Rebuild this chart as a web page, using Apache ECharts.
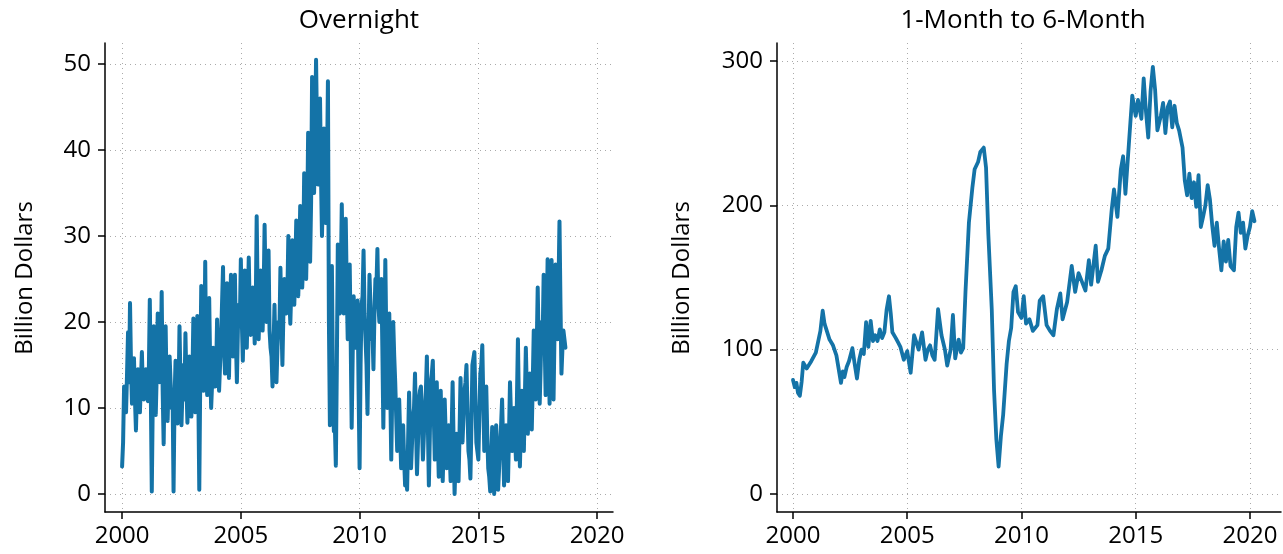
<!DOCTYPE html>
<html>
<head>
<meta charset="utf-8">
<script src="https://cdn.jsdelivr.net/npm/echarts@6/dist/echarts.min.js"></script>
<style>html,body{margin:0;padding:0;background:#fff;}#c{width:1283px;height:554px;}</style>
</head>
<body>
<div id="c"></div>
<script>
// ---- Data ----
const panelTitles = ['Overnight', '1-Month to 6-Month'];
const yAxisTitle = 'Billion Dollars';
const xTicks = [2000, 2005, 2010, 2015, 2020];
const overnightYTicks = [0, 10, 20, 30, 40, 50];
const termYTicks = [0, 100, 200, 300];

// Overnight: readings at the start of each month, from Jan 2000
const overnightStartYear = 2000;
const overnightValues = [
  3.2, 12.5, 9.5, 18.8, 22.2, 10.5, 15.8, 7.4, 14.5, 9.5, 16.5, 11,
  14.5, 10.8, 22.6, 0.3, 19.5, 9.2, 21, 13, 23.5, 5.8, 19.5, 8.5,
  16, 10, 0.3, 15.5, 8.2, 19.5, 8, 15, 18.7, 8.3, 16, 9,
  20.4, 9.5, 20.7, 0.5, 24.2, 12, 27, 11.5, 22.8, 10, 17, 12.5,
  20.3, 12, 18, 26.4, 14, 24.5, 13.5, 25.5, 16, 25.5, 13, 22,
  27.3, 15.5, 26, 17, 27.5, 18.5, 24, 17.5, 32.3, 18, 26, 19,
  31.3, 20, 28.3, 17, 12.5, 22, 13, 20, 26.3, 15, 25, 21,
  30, 19.8, 29.5, 22, 31.8, 23, 33.5, 24, 37.3, 25, 42, 27,
  48.5, 35, 50.5, 36, 46, 30, 42.5, 31.5, 48, 8, 26.5, 7.3,
  3.3, 29, 21, 33.7, 21, 32, 18, 26.7, 7.7, 23, 17, 22.5,
  3, 22, 28.3, 18, 9.3, 25.5, 18, 14.5, 25, 28.5, 20, 25,
  7.7, 27.2, 10, 21, 4, 20, 13, 5, 11, 3, 8, 1,
  0.5, 11.8, 3, 9, 14, 2.3, 11, 12.5, 4, 10, 16, 1,
  13, 15.5, 4, 13, 2, 12, 1.5, 11, 3, 8, 1.5, 13,
  0, 7, 1.5, 13.5, 6, 12, 15, 5, 1.8, 15, 16.5, 6,
  4, 14, 17.3, 5, 12.5, 3, 0.3, 7.8, 0, 8, 0.5, 6,
  11, 1, 8, 1.5, 13, 5, 10, 4, 18, 3.2, 12, 5,
  17, 7, 14, 7.5, 19, 11, 24, 10.5, 20, 25.5, 11.5, 27.3,
  10.5, 27.2, 11, 26.7, 18, 31.7, 14, 19, 17
];
// Overnight: mid-month readings (between consecutive start-of-month readings)
const overnightMidValues = [
  6, 11, 14, 13, 15, 12, 11, 12, 12, 13, 12, 13,
  12, 14, 12, 11, 13, 14, 16, 15, 12, 14, 12, 13,
  13, 12, 11, 12, 11, 13, 12, 11, 13, 12, 11, 13,
  13, 15, 12, 14, 16, 15, 14, 16, 15, 13, 15, 14,
  16, 15, 18, 17, 19, 18, 20, 19, 20, 18, 19, 20,
  20, 21, 19, 22, 21, 20, 22, 21, 23, 22, 21, 23,
  24, 22, 19, 16, 17, 16, 17, 19, 20, 21, 22, 23,
  23, 24, 25, 26, 25, 27, 28, 27, 29, 31, 33, 34,
  40, 41, 42, 40, 37, 36, 35, 37, 20, 15, 14, 8,
  15, 24, 25, 26, 25, 24, 22, 18, 16, 20, 20, 12,
  15, 23, 21, 15, 18, 22, 19, 21, 24, 22, 22, 17,
  17, 18, 15, 12, 12, 16, 9, 8, 7, 5, 4, 3,
  6, 7, 6, 10, 8, 6, 12, 8, 7, 12, 8, 7,
  14, 9, 8, 7, 7, 6, 6, 7, 5, 5, 7, 6,
  4, 4, 7, 9, 9, 13, 10, 4, 8, 15, 11, 5,
  9, 15, 11, 8, 7, 2, 4, 3, 4, 3, 3, 8,
  6, 4, 5, 7, 9, 7, 7, 11, 10, 8, 8, 11,
  12, 10, 11, 13, 15, 17, 17, 15, 18, 18, 19, 18,
  19, 18, 19, 22, 24, 22, 17, 18
];

// 1-Month to 6-Month: [decimal year, value]
const termPoints = [
  [2000.0,79],[2000.08,74],[2000.15,77],[2000.22,70],[2000.3,68],[2000.38,78],[2000.45,91],[2000.6,87],[2000.8,92],
  [2001.0,98],[2001.2,113],[2001.3,127],[2001.38,118],[2001.45,117],[2001.6,107],[2001.75,103],[2001.9,96],
  [2002.1,77],[2002.18,85],[2002.25,81],[2002.35,88],[2002.45,92],[2002.6,101],[2002.7,90],[2002.8,80],[2002.9,93],
  [2003.0,100],[2003.1,97],[2003.2,119],[2003.3,102],[2003.4,120],[2003.5,106],[2003.6,110],[2003.7,106],[2003.8,114],[2003.9,108],
  [2004.0,112],[2004.1,128],[2004.2,137],[2004.28,125],[2004.35,112],[2004.5,108],[2004.6,105],[2004.7,102],[2004.85,93],
  [2005.0,99],[2005.15,84],[2005.3,110],[2005.4,105],[2005.5,100],[2005.65,112],[2005.8,93],[2005.9,100],
  [2006.0,103],[2006.1,96],[2006.2,93],[2006.35,128],[2006.5,110],[2006.65,100],[2006.75,89],[2006.9,100],
  [2007.0,124],[2007.1,94],[2007.25,107],[2007.35,98],[2007.45,101],[2007.55,140],[2007.7,188],[2007.85,212],[2007.95,225],
  [2008.1,230],[2008.2,237],[2008.35,240],[2008.45,226],[2008.55,180],[2008.7,128],[2008.8,72],[2008.9,38],
  [2009.0,19],[2009.1,40],[2009.2,55],[2009.35,90],[2009.45,106],[2009.55,115],[2009.65,140],[2009.75,144],[2009.85,126],
  [2010.0,122],[2010.1,137],[2010.2,118],[2010.35,121],[2010.5,113],[2010.7,117],[2010.8,134],[2010.95,137],
  [2011.1,117],[2011.25,113],[2011.4,110],[2011.55,128],[2011.7,139],[2011.8,121],
  [2012.0,133],[2012.2,158],[2012.35,140],[2012.5,153],[2012.65,147],[2012.8,141],[2012.95,162],
  [2013.05,145],[2013.25,172],[2013.35,147],[2013.5,155],[2013.65,165],[2013.8,170],[2013.95,197],
  [2014.05,211],[2014.2,192],[2014.35,225],[2014.45,234],[2014.55,208],[2014.7,242],[2014.85,276],
  [2015.0,262],[2015.1,273],[2015.25,260],[2015.35,288],[2015.45,265],[2015.55,247],[2015.65,279],[2015.75,296],[2015.85,280],[2015.95,252],
  [2016.1,262],[2016.2,271],[2016.3,250],[2016.4,268],[2016.5,272],[2016.6,254],[2016.7,269],[2016.8,257],[2016.9,252],
  [2017.05,240],[2017.15,217],[2017.25,207],[2017.35,222],[2017.45,205],[2017.55,216],[2017.65,199],[2017.75,221],[2017.85,185],[2017.95,192],
  [2018.05,200],[2018.15,214],[2018.25,204],[2018.35,186],[2018.45,172],[2018.55,188],[2018.65,170],[2018.75,155],[2018.85,175],[2018.95,161],
  [2019.05,176],[2019.15,158],[2019.3,155],[2019.4,185],[2019.5,195],[2019.6,181],[2019.7,188],[2019.8,170],[2019.9,179],
  [2020.0,185],[2020.1,196],[2020.2,189]
];

// ---- Chart ----
const overnightPoints = [];
overnightValues.forEach((v, i) => {
  overnightPoints.push([overnightStartYear + i / 12, v]);
  if (i < overnightMidValues.length) {
    overnightPoints.push([overnightStartYear + i / 12 + 1 / 24, overnightMidValues[i]]);
  }
});
const FONT = 'Open Sans';
const LINE = '#1473a7';
const GRID = '#aaaaaa';

function xAxisCfg(gridIndex, min, max) {
  return {
    type: 'value', gridIndex, min, max,
    axisLine: { show: true, onZero: false, lineStyle: { color: '#000', width: 1.5 } },
    axisTick: { show: true, length: 7, customValues: xTicks, lineStyle: { color: '#000', width: 1.5 } },
    axisLabel: { customValues: xTicks, color: '#000', fontFamily: FONT, fontSize: 24, margin: 12, formatter: v => String(v) },
    splitLine: { show: true, lineStyle: { color: GRID, width: 1, type: [1, 4] } }
  };
}
function yAxisCfg(gridIndex, min, max, ticks) {
  return {
    type: 'value', gridIndex, min, max,
    axisLine: { show: true, onZero: false, lineStyle: { color: '#000', width: 1.5 } },
    axisTick: { show: true, length: 7, customValues: ticks, lineStyle: { color: '#000', width: 1.5 } },
    axisLabel: { customValues: ticks, color: '#000', fontFamily: FONT, fontSize: 24, margin: 14 },
    splitLine: { show: true, lineStyle: { color: GRID, width: 1, type: [1, 4] } }
  };
}

const chart = echarts.init(document.getElementById('c'), null, { renderer: 'canvas' });
chart.setOption({
  animation: false,
  backgroundColor: '#fff',
  grid: [
    { left: 105, top: 43, width: 508, height: 469, outerBoundsMode: 'none', containLabel: false },
    { left: 777, top: 43, width: 504, height: 469, outerBoundsMode: 'none', containLabel: false }
  ],
  xAxis: [xAxisCfg(0, 1999.28, 2020.67), xAxisCfg(1, 1999.30, 2021.36)],
  yAxis: [yAxisCfg(0, -2.09, 52.44, overnightYTicks), yAxisCfg(1, -12.5, 312.5, termYTicks)],
  series: [
    { type: 'line', xAxisIndex: 0, yAxisIndex: 0, data: overnightPoints, showSymbol: false,
      lineStyle: { color: LINE, width: 4, join: 'round', cap: 'round' } },
    { type: 'line', xAxisIndex: 1, yAxisIndex: 1, data: termPoints, showSymbol: false,
      lineStyle: { color: LINE, width: 3.8, join: 'round', cap: 'round' } }
  ],
  graphic: [
    { type: 'text', x: 359, y: 21, style: { text: panelTitles[0], fill: '#000', font: '26px "' + FONT + '"', align: 'center', verticalAlign: 'middle' } },
    { type: 'text', x: 1023, y: 21, style: { text: panelTitles[1], fill: '#000', font: '26px "' + FONT + '"', align: 'center', verticalAlign: 'middle' } },
    { type: 'text', x: 25, y: 278, rotation: Math.PI / 2, style: { text: yAxisTitle, fill: '#000', font: '24px "' + FONT + '"', align: 'center', verticalAlign: 'middle' } },
    { type: 'text', x: 682, y: 278, rotation: Math.PI / 2, style: { text: yAxisTitle, fill: '#000', font: '24px "' + FONT + '"', align: 'center', verticalAlign: 'middle' } }
  ]
});
</script>
</body>
</html>
